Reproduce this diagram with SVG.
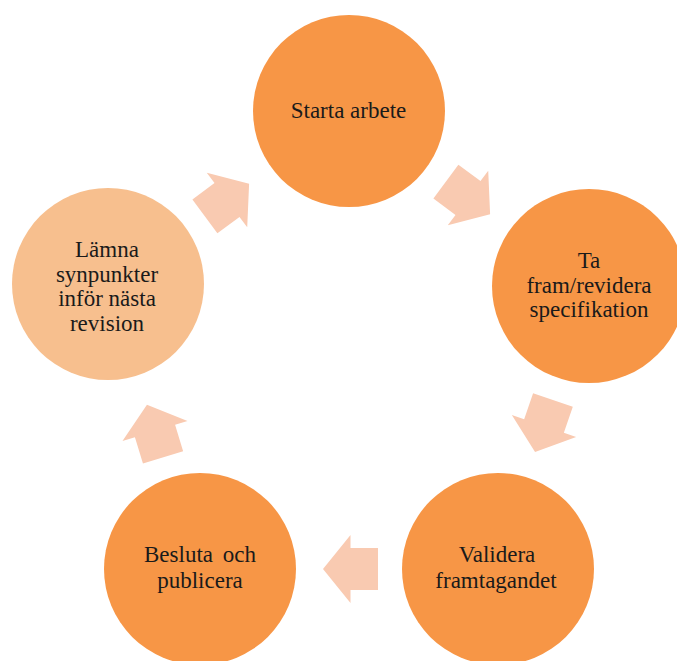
<svg xmlns="http://www.w3.org/2000/svg" width="677" height="661" viewBox="0 0 677 661">
<defs>
<style>
.node{fill:#F79646}
.light{fill:#F7BF8E}
.arr{fill:#F9CAB1}
text{font-family:"Liberation Serif","Times New Roman",serif;font-size:23px;fill:#1a1a1a;text-anchor:middle}
</style>
<path id="blk" d="M-27.5,-21 H0 V-34 L27.5,0 L0,34 V21 H-27.5 Z"/>
</defs>
<rect width="677" height="661" fill="#ffffff"/>
<g id="connectors">
<use href="#blk" class="arr" transform="translate(227,200) rotate(-36.5)"/>
<use href="#blk" class="arr" transform="translate(468,198) rotate(36.5)"/>
<use href="#blk" class="arr" transform="translate(544,426) rotate(109)"/>
<use href="#blk" class="arr" transform="translate(350.5,569) rotate(180)"/>
<use href="#blk" class="arr" transform="translate(155,431) rotate(253)"/>
</g>
<g id="n1">
<circle class="node" cx="349" cy="111" r="96"/>
<text x="348.5" y="118">Starta arbete</text>
</g>
<g id="n2">
<circle class="node" cx="589" cy="286" r="97"/>
<text x="589" y="268">Ta</text>
<text x="589" y="293">fram/revidera</text>
<text x="589" y="317">specifikation</text>
</g>
<g id="n3">
<circle class="node" cx="498" cy="569" r="96"/>
<text x="497" y="562">Validera</text>
<text x="496" y="588">framtagandet</text>
</g>
<g id="n4">
<circle class="node" cx="200" cy="569" r="96"/>
<text x="200" y="562" word-spacing="4">Besluta och</text>
<text x="200" y="588">publicera</text>
</g>
<g id="n5">
<circle class="light" cx="108" cy="284" r="96"/>
<text x="107" y="257">Lämna</text>
<text x="107" y="282">synpunkter</text>
<text x="107" y="306">inför nästa</text>
<text x="107" y="331">revision</text>
</g>
</svg>
